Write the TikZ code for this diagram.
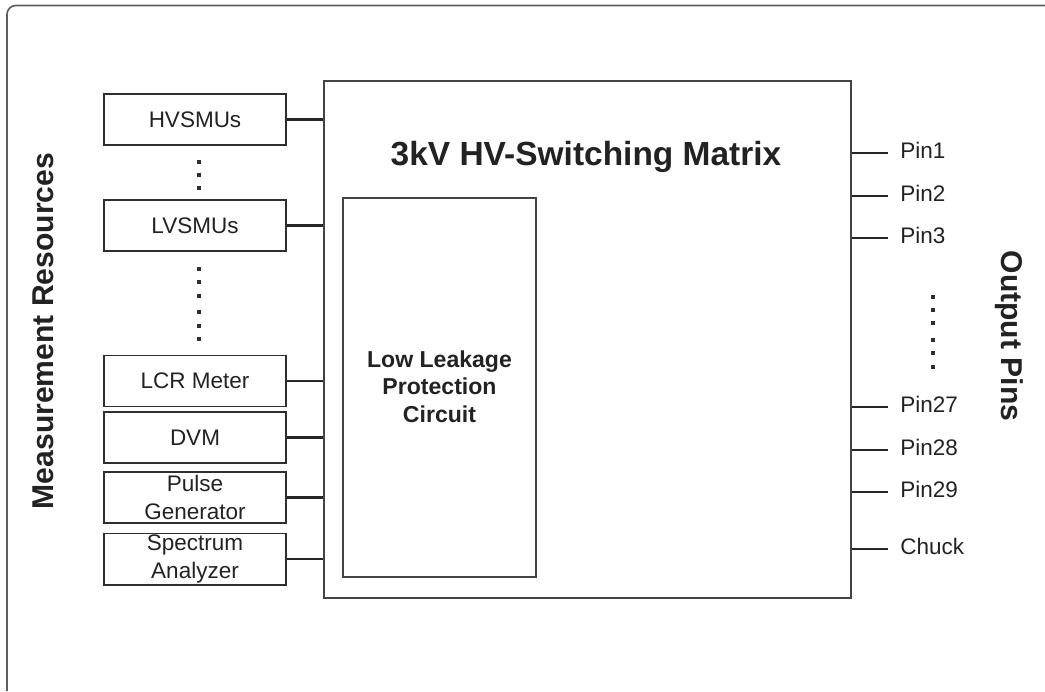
\documentclass[tikz,border=0pt]{standalone}
\usepackage{fontspec}
\setmainfont{Liberation Sans}
\definecolor{boxline}{HTML}{2E2E2E}
\definecolor{mainline}{HTML}{444444}
\definecolor{inktext}{HTML}{222222}
\definecolor{framegray}{HTML}{5E5E5E}
\usetikzlibrary{positioning,calc}

\begin{document}
\begin{tikzpicture}[
    x=0.025cm, y=-0.025cm,
    every node/.style={text=inktext},
    resource/.style={rectangle, draw=boxline, line width=1.4pt, inner sep=0pt,
                minimum width=4.55cm, minimum height=1.275cm, align=center,
                font=\fontsize{16}{20}\selectfont},
    matrixbox/.style={rectangle, draw=mainline, line width=1.1pt, inner sep=0pt,
                minimum width=13.175cm, minimum height=12.925cm},
    protect/.style={rectangle, draw=mainline, line width=1.1pt, inner sep=0pt,
                minimum width=4.825cm, minimum height=9.475cm},
    wire/.style={draw=black!85, line width=1.8pt},
    pinlabel/.style={anchor=west, inner sep=0pt, font=\fontsize{16}{20}\selectfont},
    sidelabel/.style={font=\fontsize{21.4}{24}\selectfont\bfseries}
]
    \useasboundingbox (0,0) rectangle (1045,691);
    % screenshot frame
    \draw[framegray, line width=1.2pt, rounded corners=0.22cm] (7,691) -- (7,5.5) -- (1045,5.5);

    \node[matrixbox] (matrix) at (587.5,339.5) {};
    \node[protect] (llp) at (439.5,387.5) {};
    \node[align=center, font=\fontsize{16.4}{19.5}\selectfont\bfseries] (llptext) at (439.5,386.5)
        {Low Leakage\\Protection\\Circuit};
    \node[anchor=base, font=\fontsize{23.8}{28}\selectfont\bfseries] (title) at (586,165)
        {3kV HV-Switching Matrix};

    % measurement resources
    \node[resource] (hvsmu) at (195,119.5) {HVSMUs};
    \node[resource] (lvsmu) at (195,225.5) {LVSMUs};
    \node[resource] (lcr) at (195,381) {LCR Meter};
    \node[resource] (dvm) at (195,437.5) {DVM};
    \node[resource] (pulse) at (195,497.5) {Pulse\\Generator};
    \node[resource] (spec) at (195,559) {Spectrum\\Analyzer};

    \foreach \src in {hvsmu,lvsmu,lcr,dvm,pulse,spec}
        \draw[wire] (\src.east) -- (\src.east -| matrix.west);

    \foreach \y in {162,175,188,269,282,296,312,326,339}
        \fill[boxline] (197,\y-2) rectangle ++(4,4);

    \node[sidelabel, rotate=90] (resources) at (43,331) {Measurement Resources};

    % output pins
    \node[pinlabel] (pin1) at (900,150) {Pin1};
    \node[pinlabel] (pin2) at (900,193) {Pin2};
    \node[pinlabel] (pin3) at (900,235) {Pin3};
    \node[pinlabel] (pin27) at (900,404) {Pin27};
    \node[pinlabel] (pin28) at (900,447) {Pin28};
    \node[pinlabel] (pin29) at (900,489) {Pin29};
    \node[pinlabel] (chuck) at (900,546) {Chuck};

    \foreach \pin in {pin1,pin2,pin3,pin27,pin28,pin29,chuck}
        \draw[wire] ($(matrix.east |- \pin.west)+(0,3)$) -- ($(\pin.west)+(-12,3)$);

    \foreach \y in {297,310,323,340,353,367}
        \fill[boxline] (931,\y-2) rectangle ++(4,4);

    \node[sidelabel, rotate=-90] (outputs) at (1009,336) {Output Pins};
\end{tikzpicture}
\end{document}
